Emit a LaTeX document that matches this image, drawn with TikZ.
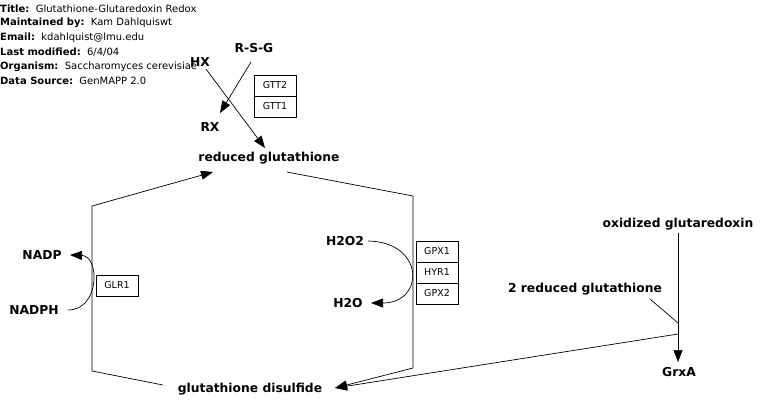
\documentclass[tikz,border=0pt]{standalone}
\usepackage{fontspec}
\setmainfont{DejaVu Sans}
\usetikzlibrary{arrows.meta}
\tikzset{
  lbl/.style={font=\bfseries\fontsize{12.3}{14}\selectfont, inner sep=1pt},
  gene/.style={draw, line width=0.6pt, font=\fontsize{9.5}{10}\selectfont, minimum width=42pt, minimum height=21pt, inner sep=0pt},
  hdr/.style={anchor=west, font=\fontsize{10}{11}\selectfont, inner sep=0pt},
  conn/.style={line width=0.7pt},
  arr/.style={conn, -{Triangle[length=12pt,width=9pt]}}
}
\begin{document}
\begin{tikzpicture}[x=1pt,y=-1pt]
\useasboundingbox (0,0) rectangle (781,413);
% header
\node[hdr] (h1) at (0,8.5) {\textbf{Title:}\ \ Glutathione-Glutaredoxin Redox};
\node[hdr] (h2) at (0,23) {\textbf{Maintained by:}\ \ Kam Dahlquiswt};
\node[hdr] (h3) at (0,37.5) {\textbf{Email:}\ \ kdahlquist@lmu.edu};
\node[hdr] (h4) at (0,52) {\textbf{Last modified:}\ \ 6/4/04};
\node[hdr] (h5) at (0,66.5) {\textbf{Organism:}\ \ Saccharomyces cerevisiae};
\node[hdr] (h6) at (0,81) {\textbf{Data Source:}\ \ GenMAPP 2.0};
% labels
\node[lbl] (rsg) at (254,48) {R-S-G};
\node[lbl] (hx) at (200,62) {HX};
\node[lbl] (rx) at (210,127) {RX};
\node[lbl] (rg) at (269,158) {reduced glutathione};
\node[lbl] (nadp) at (42,255) {NADP};
\node[lbl] (nadph) at (34,310) {NADPH};
\node[lbl] (h2o2) at (345,241) {H2O2};
\node[lbl] (h2o) at (348,303) {H2O};
\node[lbl] (gd) at (250,389) {glutathione disulfide};
\node[lbl] (oxg) at (678,224) {oxidized glutaredoxin};
\node[lbl] (rg2) at (585,289) {2 reduced glutathione};
\node[lbl] (grxa) at (679,372) {GrxA};
% gene boxes
\node[gene] (gtt2) at (275,85.5) {GTT2};
\node[gene] (gtt1) at (275,106.5) {GTT1};
\node[gene] (glr1) at (117,285.5) {GLR1};
\node[gene] (gpx1) at (437,251.5) {GPX1};
\node[gene] (hyr1) at (437,272.5) {HYR1};
\node[gene] (gpx2) at (437,293.5) {GPX2};
% coordinates
\coordinate (a1) at (251,62);
\coordinate (a2) at (220,113);
\coordinate (b1) at (206,69);
\coordinate (b2) at (265,148);
\coordinate (l1) at (92,206);
\coordinate (l2) at (92,371);
\coordinate (l3) at (163,385);
\coordinate (lt) at (213,172);
\coordinate (r0) at (287,172);
\coordinate (r1) at (413,196);
\coordinate (r2) at (413,368);
\coordinate (gt) at (335,388);
\coordinate (n1) at (68,310);
\coordinate (n2) at (70,255);
\coordinate (w1) at (368,241);
\coordinate (w2) at (371,303);
\coordinate (g1) at (678,233);
\coordinate (g2) at (678,362);
\coordinate (g3) at (678,334);
\coordinate (g4) at (650,299);
\coordinate (g5) at (678,323);
% connectors
\draw[arr] (a1) -- (a2);
\draw[arr] (b1) -- (b2);
\draw[arr] (l3) -- (l2) -- (l1) -- (lt);
\draw[arr] (r0) -- (r1) -- (r2) -- (gt);
\draw[arr] (g3) -- (gt);
\draw[arr] (n1) .. controls (100,310) and (100,256) .. (n2);
\draw[arr] (w1) .. controls (425,242) and (425,303) .. (w2);
\draw[arr] (g1) -- (g2);
\draw[conn] (g4) -- (g5);
\end{tikzpicture}
\end{document}
